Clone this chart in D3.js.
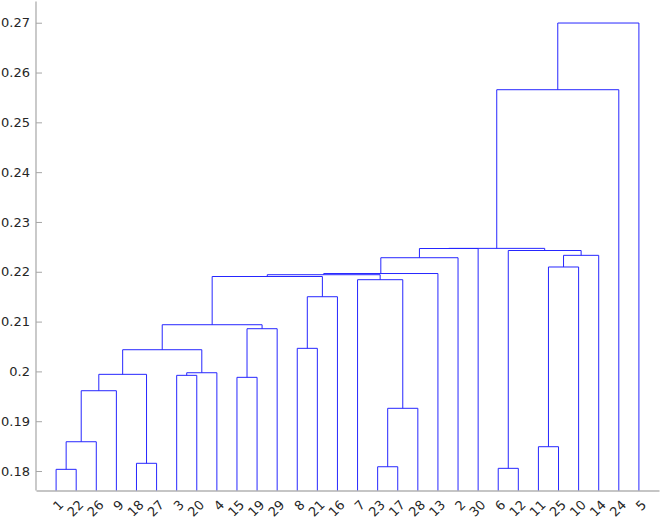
<!DOCTYPE html>
<html>
<head>
<meta charset="utf-8">
<script src="https://cdn.jsdelivr.net/npm/d3@7"></script>
<style>
  html, body { margin: 0; padding: 0; background: #fff; }
  svg { display: block; }
  text { font-family: "DejaVu Sans", sans-serif; }
</style>
</head>
<body>
<svg id="chart" width="660" height="519"></svg>
<script>
// Leaf labels in dendrogram display order
const leafOrder = [1, 22, 26, 9, 18, 27, 3, 20, 4, 15, 19, 29, 8, 21, 16, 7, 23, 17, 28, 13, 2, 30, 6, 12, 11, 25, 10, 14, 24, 5];

// Linkage (MATLAB style): clusters numbered 31.. in order of merge
const mergeLeft   = [1, 6, 23, 18, 11, 31, 33, 36, 15, 3, 38, 40, 41, 8, 39, 43, 44, 7, 46, 49, 50, 35, 51, 52, 32, 53, 56, 57, 58];
const mergeRight  = [22, 12, 17, 27, 25, 26, 28, 9, 19, 20, 34, 4, 42, 21, 29, 45, 16, 37, 47, 48, 13, 10, 2, 14, 54, 30, 55, 24, 5];
const mergeHeight = [0.18034, 0.18054, 0.18086, 0.18155, 0.18488, 0.18588, 0.19259, 0.19612, 0.19881, 0.19921,
                     0.19941, 0.19973, 0.20435, 0.20463, 0.20857, 0.20937, 0.21499, 0.21841, 0.21905, 0.21941,
                     0.21965, 0.22096, 0.22282, 0.22330, 0.22427, 0.22467, 0.22470, 0.25655, 0.26994];

const yTickValues = [0.18, 0.19, 0.20, 0.21, 0.22, 0.23, 0.24, 0.25, 0.26, 0.27];
const yTickLabels = ["0.18", "0.19", "0.2", "0.21", "0.22", "0.23", "0.24", "0.25", "0.26", "0.27"];

const svg = d3.select("#chart");
const nLeaves = leafOrder.length;

const x = d3.scaleLinear().domain([0, nLeaves + 1]).range([36, 659]);
const y = d3.scaleLinear().domain([0.17609, 0.27426]).range([490.5, 1.5]);

// Node positions
const nodes = {};
leafOrder.forEach((lab, i) => { nodes[lab] = { x: x(i + 1), h: y.domain()[0] }; });
mergeLeft.forEach((a, k) => {
  const b = mergeRight[k];
  const id = nLeaves + 1 + k;
  nodes[id] = { x: (nodes[a].x + nodes[b].x) / 2, h: mergeHeight[k], a, b };
});

const linkG = svg.append("g").attr("fill", "none").attr("stroke", "#2626ff").attr("stroke-width", 1);
mergeLeft.forEach((a, k) => {
  const b = mergeRight[k];
  const h = mergeHeight[k];
  const na = nodes[a], nb = nodes[b];
  const p = d3.path();
  p.moveTo(na.x, y(na.h));
  p.lineTo(na.x, y(h));
  p.lineTo(nb.x, y(h));
  p.lineTo(nb.x, y(nb.h));
  linkG.append("path").attr("d", p.toString());
});

// Y axis
const yAxis = d3.axisLeft(y)
  .tickValues(yTickValues)
  .tickFormat((d, i) => yTickLabels[i])
  .tickSizeInner(-6)
  .tickSizeOuter(0)
  .tickPadding(6);
const gy = svg.append("g").attr("transform", "translate(36,0)").call(yAxis);
gy.select(".domain").attr("stroke", "#a6a6a6").attr("stroke-width", 1.2).attr("d", `M0,${y.range()[1]}V${y.range()[0]}`);
gy.selectAll(".tick line").attr("stroke", "#a6a6a6");
gy.selectAll(".tick text").attr("fill", "#262626").style("font-size", "13px").style("font-family", "DejaVu Sans, sans-serif");

// X axis
const xAxis = d3.axisBottom(x)
  .tickValues(d3.range(1, nLeaves + 1))
  .tickFormat(d => String(leafOrder[d - 1]))
  .tickSize(0)
  .tickPadding(0);
const gx = svg.append("g").attr("transform", `translate(0,${y.range()[0]})`).call(xAxis);
gx.select(".domain").attr("stroke", "#8c8c8c").attr("stroke-width", 1.2);
gx.selectAll(".tick text")
  .attr("fill", "#262626")
  .style("font-size", "13px")
  .style("font-family", "DejaVu Sans, sans-serif")
  .attr("text-anchor", "end")
  .attr("y", 0).attr("dy", "0.35em")
  .attr("transform", "translate(4.5,12) rotate(-45)");
</script>
</body>
</html>
